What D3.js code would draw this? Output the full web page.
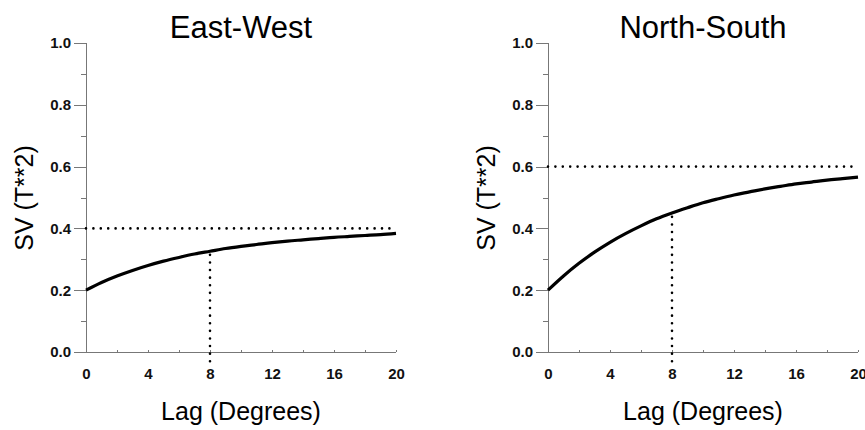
<!DOCTYPE html>
<html lang="en">
<head>
<meta charset="utf-8">
<title>Semivariograms</title>
<script src="https://d3js.org/d3.v7.min.js"></script>
<style>
  body { margin: 0; background: #fff; }
  svg { font-family: "Liberation Sans", Arial, Helvetica, sans-serif; }
  .axis path, .axis line { stroke: #777; shape-rendering: crispEdges; }
  .axis text { font-size: 15px; font-weight: bold; fill: #111; }
</style>
</head>
<body>
<script>
// lags (degrees) and semivariance
var lags = [0, 1, 2, 3, 4, 5, 6, 7, 8, 9, 10, 11, 12, 13, 14, 15, 16, 17, 18, 19, 20];
var eastWest = [0.200, 0.225, 0.246, 0.264, 0.280, 0.294, 0.306, 0.317, 0.326, 0.335, 0.342,
                0.348, 0.354, 0.359, 0.363, 0.367, 0.371, 0.374, 0.377, 0.380, 0.384];
var northSouth = [0.200, 0.246, 0.287, 0.323, 0.355, 0.383, 0.408, 0.431, 0.450, 0.467, 0.483,
                  0.496, 0.508, 0.518, 0.528, 0.536, 0.544, 0.550, 0.556, 0.561, 0.566];
var titles = ["East-West", "North-South"];
var sills = [0.4, 0.6];
var ranges = [8, 8];
var xTicks = [0, 4, 8, 12, 16, 20];
var yTicks = [0.0, 0.2, 0.4, 0.6, 0.8, 1.0];
var yMinor = [0.1, 0.3, 0.5, 0.7, 0.9];
var xMinor = [2, 6, 10, 14, 18];

var svg = d3.select("body").append("svg").attr("width", 865).attr("height", 430);

var panels = [
  {title: titles[0], values: eastWest, sill: sills[0], range: ranges[0], left: 86},
  {title: titles[1], values: northSouth, sill: sills[1], range: ranges[1], left: 548}
];

panels.forEach(function(p) {
  var x = d3.scaleLinear().domain([0, 20]).range([p.left, p.left + 310]);
  var y = d3.scaleLinear().domain([0, 1]).range([352, 43]);
  var g = svg.append("g");

  // x axis
  g.append("g").attr("class", "axis")
    .attr("transform", "translate(0,352)")
    .call(d3.axisBottom(x).tickValues(xTicks).tickFormat(d3.format("d")).tickSize(0).tickPadding(20))
    .call(a => a.select(".domain").attr("d", "M" + x(0) + ",0H" + x(20)))
    .call(a => a.selectAll("text").attr("dy", "0.45em"));
  g.append("g").attr("class", "axis")
    .attr("transform", "translate(0,352)")
    .call(d3.axisTop(x).tickValues(xTicks.concat(xMinor)).tickFormat("").tickSize(2))
    .call(a => a.select(".domain").remove());

  // y axis
  g.append("g").attr("class", "axis")
    .attr("transform", "translate(" + p.left + ",0)")
    .call(d3.axisLeft(y).tickValues(yTicks).tickFormat(d3.format(".1f")).tickSize(12).tickPadding(3))
    .call(a => a.select(".domain").attr("d", "M0," + y(1) + "V" + y(0)));
  g.append("g").attr("class", "axis")
    .attr("transform", "translate(" + p.left + ",0)")
    .call(d3.axisLeft(y).tickValues(yMinor).tickFormat("").tickSize(5))
    .call(a => a.select(".domain").remove());

  // sill and range reference lines
  g.append("line")
    .attr("x1", x(0)).attr("x2", x(20))
    .attr("y1", y(p.sill)).attr("y2", y(p.sill))
    .attr("stroke", "#000").attr("stroke-width", 2.6)
    .attr("stroke-linecap", "round").attr("stroke-dasharray", "0 7.4");
  var atRange = p.values[lags.indexOf(p.range)];
  g.append("line")
    .attr("x1", x(p.range)).attr("x2", x(p.range))
    .attr("y1", y(-0.03)).attr("y2", y(atRange))
    .attr("stroke", "#000").attr("stroke-width", 2.6)
    .attr("stroke-linecap", "round").attr("stroke-dasharray", "0 7.6");

  // model curve
  var line = d3.line()
    .x((d, i) => x(lags[i]))
    .y(d => y(d))
    .curve(d3.curveMonotoneX);
  g.append("path")
    .datum(p.values)
    .attr("d", line)
    .attr("fill", "none")
    .attr("stroke", "#000")
    .attr("stroke-width", 3.2);

  // titles
  g.append("text")
    .attr("x", (x(0) + x(20)) / 2).attr("y", 38)
    .attr("text-anchor", "middle")
    .attr("font-size", 31)
    .text(p.title);
  g.append("text")
    .attr("x", (x(0) + x(20)) / 2).attr("y", 420)
    .attr("text-anchor", "middle")
    .attr("font-size", 25)
    .text("Lag (Degrees)");
  g.append("text")
    .attr("transform", "translate(" + (p.left - 53) + ",198) rotate(-90)")
    .attr("text-anchor", "middle")
    .attr("font-size", 25)
    .text("SV (T**2)");
});
</script>
</body>
</html>
